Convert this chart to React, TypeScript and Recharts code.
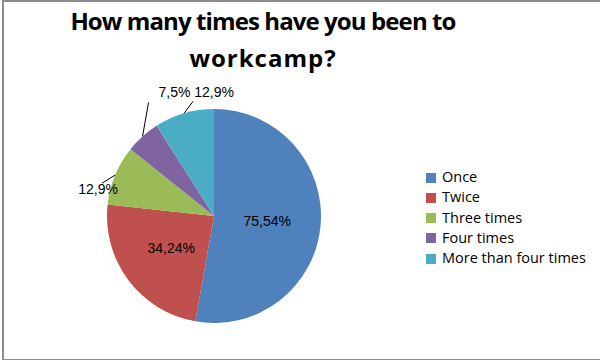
import { Cell, Legend, Pie, PieChart } from "recharts";

const CATEGORIES = ["Once", "Twice", "Three times", "Four times", "More than four times"];
const VALUES = [75.54, 34.24, 12.9, 7.5, 12.9];
const LABELS = ["75,54%", "34,24%", "12,9%", "7,5%", "12,9%"];

const COLORS = ["#4f81bd", "#c0504d", "#9bbb59", "#8064a2", "#4bacc6"];

// label placement: inside slices for the big ones, leader lines for the rest
const LABEL_POS = [
  { inside: true },
  { inside: true },
  { inside: false, ldx: -13, ldy: 8, tdx: -17, tdy: 14 },
  { inside: false, ldx: 6, ldy: -34, tdx: 32, tdy: -44 },
  { inside: false, ldx: 9, ldy: -12, tdx: 30, tdy: -21 },
];

const data = CATEGORIES.map((name, i) => ({ name, value: VALUES[i], label: LABELS[i] }));

const RAD = Math.PI / 180;
const LABEL_FONT = "'Liberation Sans', Arial, sans-serif";

function renderLabel(props: any) {
  const { cx, cy, midAngle, outerRadius, index } = props;
  const pos = LABEL_POS[index];
  const cos = Math.cos(-midAngle * RAD);
  const sin = Math.sin(-midAngle * RAD);
  if (pos.inside) {
    const r = outerRadius * 0.5;
    return (
      <text
        x={cx + r * cos}
        y={cy + r * sin}
        textAnchor="middle"
        dominantBaseline="central"
        fontSize={14}
        fill="#000"
        fontFamily={LABEL_FONT}
      >
        {LABELS[index]}
      </text>
    );
  }
  const ex = cx + outerRadius * cos;
  const ey = cy + outerRadius * sin;
  return (
    <g>
      <line x1={ex} y1={ey} x2={ex + pos.ldx!} y2={ey + pos.ldy!} stroke="#000" strokeWidth={1} />
      <text
        x={ex + pos.tdx!}
        y={ey + pos.tdy!}
        textAnchor="middle"
        dominantBaseline="central"
        fontSize={14}
        fill="#000"
        fontFamily={LABEL_FONT}
      >
        {LABELS[index]}
      </text>
    </g>
  );
}

const legendFormatter = (value: string) => (
  <span style={{ color: "#000", fontSize: 14.5, marginLeft: 2 }}>{value}</span>
);

export default function App() {
  return (
    <div style={{ position: "relative", width: 600, height: 360, overflow: "hidden", background: "#fff" }}>
      <style>{`body{margin:0} .recharts-default-legend li{height:20.25px; line-height:20px}`}</style>
      <div
        style={{
          position: "absolute",
          left: 2,
          top: 0,
          width: 640,
          height: 357,
          borderLeft: "2px solid #8c8c8c",
          borderTop: "2px solid #8c8c8c",
          borderBottom: "2px solid #8c8c8c",
        }}
      />
      <div
        style={{
          position: "absolute",
          left: 13,
          top: 2,
          width: 500,
          textAlign: "center",
          fontFamily: "'Open Sans', 'Liberation Sans', sans-serif",
          fontWeight: 700,
          fontSize: 24,
          lineHeight: "37px",
          color: "#000",
        }}
      >
        <span style={{ letterSpacing: -0.9 }}>How many times have you been to</span>
        <br />
        <span style={{ letterSpacing: 1 }}>workcamp?</span>
      </div>
      <PieChart
        width={600}
        height={360}
        margin={{ top: 0, right: 0, bottom: 0, left: 0 }}
        style={{ position: "absolute", left: 0, top: 0 }}
      >
        <Pie
          data={data}
          dataKey="value"
          nameKey="name"
          cx={214}
          cy={216}
          outerRadius={107}
          startAngle={90}
          endAngle={-270}
          stroke="none"
          label={renderLabel}
          labelLine={false}
          isAnimationActive={false}
        >
          {data.map((entry, i) => (
            <Cell key={entry.name} fill={COLORS[i]} />
          ))}
        </Pie>
        <Legend
          layout="vertical"
          align="right"
          verticalAlign="top"
          iconType="square"
          iconSize={10}
          itemSorter={(item: any) => CATEGORIES.indexOf(item.value)}
          formatter={legendFormatter}
          wrapperStyle={{
            left: 426,
            top: 166,
            width: 180,
            fontFamily: "'Open Sans', Arial, sans-serif",
          }}
        />
      </PieChart>
    </div>
  );
}
